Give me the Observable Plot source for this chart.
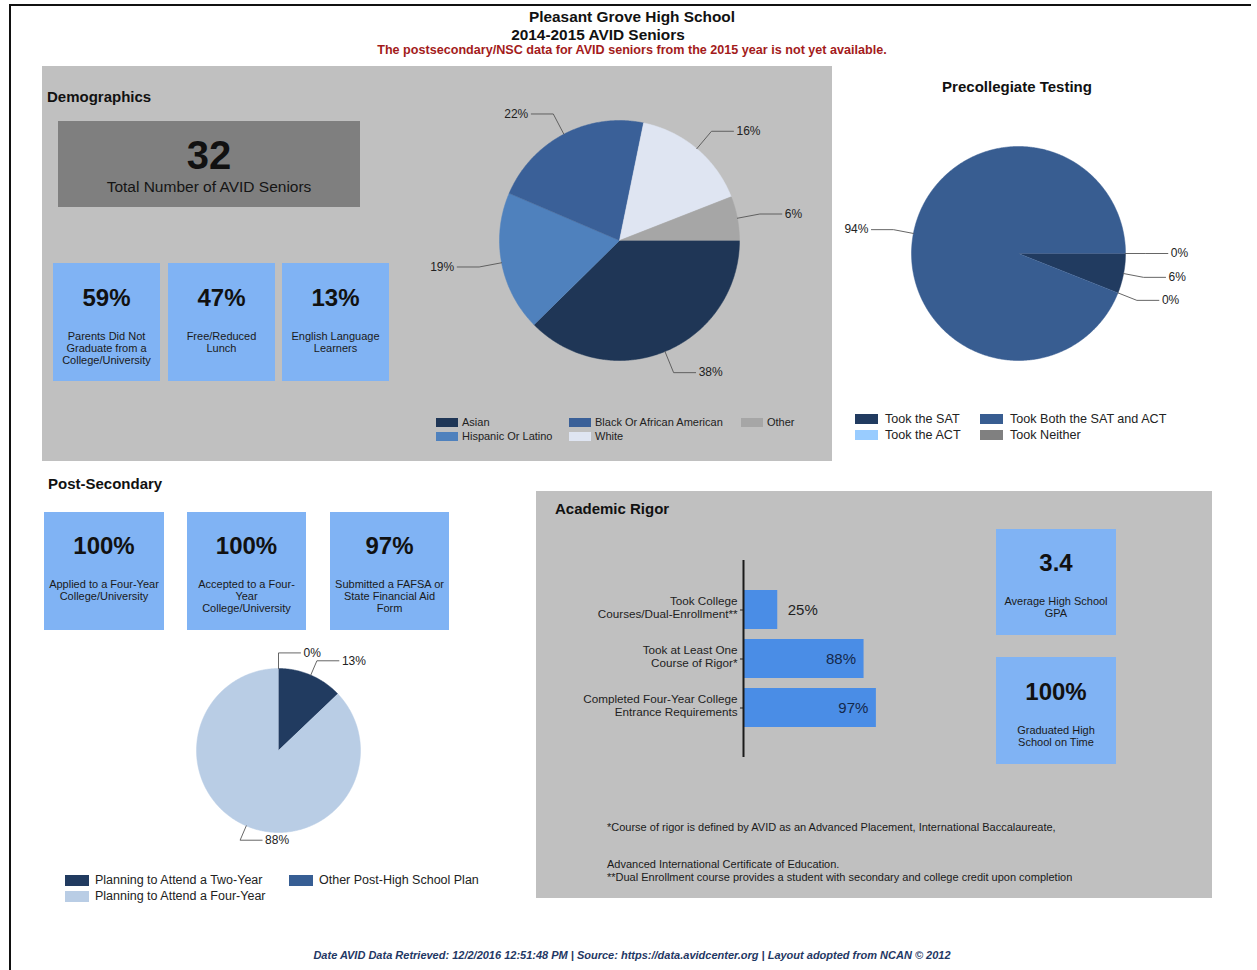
<!DOCTYPE html>
<html><head><meta charset="utf-8">
<script src="https://cdn.jsdelivr.net/npm/d3@7"></script>
<script src="https://cdn.jsdelivr.net/npm/@observablehq/plot@0.6"></script>
<style>
body{margin:0;background:#fff;font-family:"Liberation Sans",Arial,sans-serif;}
#page{position:relative;width:1257px;height:970px;overflow:hidden;background:#fff;}
.panel{position:absolute;background:#c0c0c0;}
.box{position:absolute;background:#80b3f4;}
.t{position:absolute;white-space:pre;color:#111;}
.sw{position:absolute;}
.plot{position:absolute;}
</style>
</head><body><div id="page"></div>
<script>
// ---------- data ----------
const titleLines = ["Pleasant Grove High School", "2014-2015 AVID Seniors"];
const noteLine = "The postsecondary/NSC data for AVID seniors from the 2015 year is not yet available.";
const totalSeniors = 32;
const demoStats = ["59%", "47%", "13%"];
const demoStatLabels = ["Parents Did Not\nGraduate from a\nCollege/University", "Free/Reduced\nLunch", "English Language\nLearners"];
const raceNames = ["Asian", "Hispanic Or Latino", "Black Or African American", "White", "Other"];
const raceValues = [38, 19, 22, 16, 6];
const raceColors = ["#1f3656", "#4f81bd", "#3a6098", "#dfe5f2", "#a6a6a6"];
const testNames = ["Took the ACT", "Took the SAT", "Took Neither", "Took Both the SAT and ACT"];
const testValues = [0, 6, 0, 94];
const testColors = ["#99ccff", "#213b60", "#808080", "#385d91"];
const testLegendOrder = ["Took the SAT", "Took the ACT", "Took Both the SAT and ACT", "Took Neither"];
const postStats = ["100%", "100%", "97%"];
const postStatLabels = ["Applied to a Four-Year\nCollege/University", "Accepted to a Four-\nYear\nCollege/University", "Submitted a FAFSA or\nState Financial Aid\nForm"];
const planNames = ["Planning to Attend a Two-Year", "Planning to Attend a Four-Year", "Other Post-High School Plan"];
const planValues = [13, 88, 0];
const planColors = ["#213b60", "#b9cde5", "#375e94"];
const rigorLabels = ["Took College\nCourses/Dual-Enrollment**", "Took at Least One\nCourse of Rigor*", "Completed Four-Year College\nEntrance Requirements"];
const rigorValues = [25, 88, 97];
const rigorStats = ["3.4", "100%"];
const rigorStatLabels = ["Average High School\nGPA", "Graduated High\nSchool on Time"];
const footnotes = ["*Course of rigor is defined by AVID as an Advanced Placement, International Baccalaureate,", "Advanced International Certificate of Education.", "**Dual Enrollment course provides a student with secondary and college credit upon completion"];
const footer = "Date AVID Data Retrieved: 12/2/2016 12:51:48 PM | Source: https://data.avidcenter.org | Layout adopted from NCAN © 2012";

// ---------- helpers ----------
const page = document.getElementById("page");
function div(cls, css) { const d = document.createElement("div"); d.className = cls; Object.assign(d.style, css); page.appendChild(d); return d; }
function txt(text, x, base, size, o = {}) {
  const lh = o.lh || size;
  const d = div("t", {fontSize: size + "px", lineHeight: lh + "px", fontWeight: o.bold ? "bold" : "normal",
    fontStyle: o.italic ? "italic" : "normal", color: o.color || "#111", top: (base - lh / 2 - 0.3465 * size) + "px"});
  d.textContent = text;
  const a = o.anchor || "start";
  if (a === "start") d.style.left = x + "px";
  else if (a === "end") { d.style.right = (1257 - x) + "px"; d.style.textAlign = "right"; }
  else { d.style.left = (x - 400) + "px"; d.style.width = "800px"; d.style.textAlign = "center"; }
  return d;
}
function rect(x, y, w, h, color, cls = "sw") { return div(cls, {left: x + "px", top: y + "px", width: w + "px", height: h + "px", background: color}); }
function statBox(x, y, w, h, num, label, numBase, lblBase) {
  rect(x, y, w, h, "#80b3f4", "box");
  txt(num, x + w / 2, numBase, 24, {bold: true, anchor: "middle"});
  txt(label, x + w / 2, lblBase, 11, {anchor: "middle", lh: 12, color: "#1a1a1a"});
}
function legend(names, colors, cols, rows, sw, off, size) {
  names.forEach((n, i) => {
    const c = Math.floor(i / rows.length), r = i % rows.length;
    rect(cols[c], rows[r], sw[0], sw[1], colors[i]);
    txt(n, cols[c] + off, rows[r] + sw[1] / 2 + 0.36 * size, size, {color: "#222"});
  });
}
function piePlot(values, colors, left, top, W, H, cx, cy, r, start, labelSize) {
  const arcs = d3.pie().sort(null).startAngle(start).endAngle(start + 2 * Math.PI)(values);
  const marks = [];
  const leads = [], labs = [];
  arcs.forEach((a, i) => {
    const span = a.endAngle - a.startAngle;
    if (span > 1e-6) {
      const pts = [{x: cx, y: cy}];
      const n = Math.max(2, Math.ceil(span / 0.01));
      for (let j = 0; j <= n; j++) { const t = a.startAngle + span * j / n; pts.push({x: cx + r * Math.sin(t), y: cy - r * Math.cos(t)}); }
      marks.push(Plot.line(pts, {x: "x", y: "y", fill: colors[i], stroke: colors[i], strokeWidth: 0.5}));
    }
    const m = (a.startAngle + a.endAngle) / 2, s = Math.sin(m), c = Math.cos(m);
    const dir = (c < 0 && Math.abs(s) < 0.5) ? 1 : (s >= -1e-6 ? 1 : -1);
    const p1 = {x: cx + r * s, y: cy - r * c}, p2 = {x: cx + r * 1.19 * s, y: cy - r * 1.19 * c};
    const p3 = {x: p2.x + dir * 22, y: p2.y};
    leads.push({k: i, ...p1}, {k: i, ...p2}, {k: i, ...p3});
    labs.push({x: p3.x + dir * 3, y: p3.y, t: values[i] + "%", a: dir > 0 ? "start" : "end"});
  });
  marks.push(Plot.line(leads, {x: "x", y: "y", z: "k", stroke: "#555", strokeWidth: 0.9}));
  marks.push(Plot.text(labs.filter(d => d.a === "start"), {x: "x", y: "y", text: "t", textAnchor: "start", fill: "#222", fontSize: labelSize}));
  marks.push(Plot.text(labs.filter(d => d.a === "end"), {x: "x", y: "y", text: "t", textAnchor: "end", fill: "#222", fontSize: labelSize}));
  const svg = Plot.plot({width: W, height: H, margin: 0,
    x: {domain: [0, W], range: [0, W], axis: null}, y: {domain: [0, H], range: [0, H], axis: null},
    style: {background: "transparent", fontFamily: "Liberation Sans, Arial, sans-serif", overflow: "visible"},
    marks});
  svg.classList.add("plot"); svg.style.left = left + "px"; svg.style.top = top + "px";
  page.appendChild(svg);
}

// ---------- page ----------
div("sw", {left: "9px", top: "4px", width: "1240px", height: "980px", borderTop: "2px solid #111", borderLeft: "2px solid #111"});
txt(titleLines[0], 632, 22, 15.4, {bold: true, anchor: "middle"});
txt(titleLines[1], 598, 40, 15.4, {bold: true, anchor: "middle"});
txt(noteLine, 632, 55, 12.6, {bold: true, anchor: "middle", color: "#a31b1b"});

// Demographics
rect(42, 66, 790, 395, "#c0c0c0", "panel");
txt("Demographics", 47, 102, 15, {bold: true});
rect(58, 121, 302, 86, "#7f7f7f");
txt(String(totalSeniors), 209, 169, 40, {bold: true, anchor: "middle"});
txt("Total Number of AVID Seniors", 209, 192, 15.5, {anchor: "middle", color: "#151515"});
[53, 168, 282].forEach((x, i) => statBox(x, 263, 107, 118, demoStats[i], demoStatLabels[i], 306.5, 340));
piePlot(raceValues, raceColors, 420, 90, 410, 310, 199, 150, 120, Math.PI / 2, 12);
legend(raceNames, raceColors, [436, 569, 741], [418, 432], [22, 9], 26, 11);

// Precollegiate
txt("Precollegiate Testing", 1017, 92, 15, {bold: true, anchor: "middle"});
piePlot(testValues, testColors, 840, 130, 370, 250, 178, 123, 107, Math.PI / 2, 12);
legend(testLegendOrder, testLegendOrder.map(n => testColors[testNames.indexOf(n)]), [855, 980], [414, 430], [23, 10], 30, 12.6);

// Post-Secondary
txt("Post-Secondary", 48, 489, 15, {bold: true});
[[44, 120], [187, 119], [330, 119]].forEach(([x, w], i) => statBox(x, 512, w, 118, postStats[i], postStatLabels[i], 554.5, 588));
piePlot(planValues, planColors, 180, 635, 220, 225, 98, 115, 82, 0, 12);
legend(planNames, planColors, [65, 289], [875, 891], [24, 11], 30, 12.5);

// Academic Rigor
rect(536, 491, 676, 407, "#c0c0c0", "panel");
txt("Academic Rigor", 555, 514, 15, {bold: true});
const rigor = rigorLabels.map((l, i) => ({label: l, value: rigorValues[i]}));
const bar = Plot.plot({
  width: 340, height: 217, marginLeft: 183, marginRight: 20, marginTop: 10, marginBottom: 10,
  style: {background: "transparent", fontFamily: "Liberation Sans, Arial, sans-serif", overflow: "visible"},
  x: {domain: [0, 100], axis: null},
  y: {domain: rigorLabels, paddingInner: 0.2, paddingOuter: 0.59, axis: null},
  marks: [
    Plot.barX(rigor, {x: "value", y: "label", fill: "#4a8de6"}),
    Plot.ruleY(rigor, {y: "label", x1: -2.2, x2: 0, stroke: "#222", strokeWidth: 1}),
    Plot.ruleX([0], {stroke: "#1a1a1a", strokeWidth: 2}),
    Plot.text(rigor, {x: 0, y: "label", text: "label", textAnchor: "end", dx: -6, dy: -3, fontSize: 11.7, fill: "#222", lineHeight: 1.12}),
    Plot.text(rigor.filter(d => d.value < 50), {x: "value", y: "label", text: d => d.value + "%", textAnchor: "start", dx: 10, fontSize: 15, fill: "#1f1f1f"}),
    Plot.text(rigor.filter(d => d.value >= 50), {x: "value", y: "label", text: d => d.value + "%", textAnchor: "end", dx: -8, fontSize: 15, fill: "#14284b"})
  ]
});
bar.classList.add("plot"); bar.style.left = "560px"; bar.style.top = "550px";
page.appendChild(bar);
statBox(996, 529, 120, 106, rigorStats[0], rigorStatLabels[0], 571.5, 605);
statBox(996, 657, 120, 107, rigorStats[1], rigorStatLabels[1], 700.5, 734);
txt(footnotes[0], 607, 831, 11, {color: "#1a1a1a"});
txt(footnotes[1], 607, 868, 11, {color: "#1a1a1a"});
txt(footnotes[2], 607, 881, 11, {color: "#1a1a1a"});

// Footer
txt(footer, 632, 959, 11, {bold: true, italic: true, anchor: "middle", color: "#1f3864"});
</script></body></html>
